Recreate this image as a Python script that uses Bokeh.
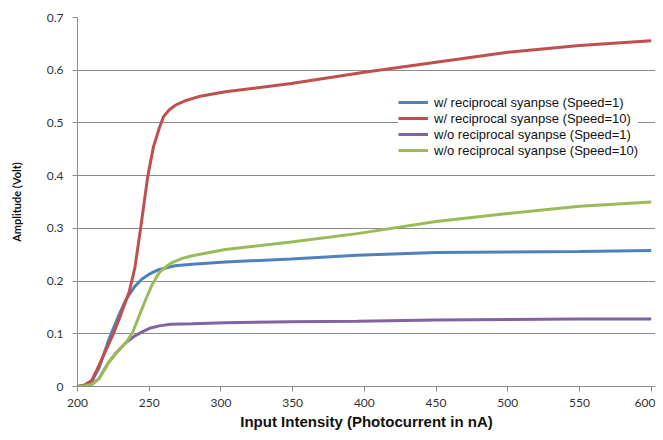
from bokeh.plotting import figure
from bokeh.models import FixedTicker, Range1d, Legend, LegendItem
from bokeh.embed import file_html
from bokeh.resources import INLINE

# Data
x_blue = [200, 205, 210, 215, 222, 228, 234, 240, 245, 250, 257, 268, 280, 303, 349, 395, 450, 500, 550, 600]
y_blue = [0, 0.002, 0.01, 0.035, 0.09, 0.13, 0.166, 0.19, 0.204, 0.213, 0.222, 0.229, 0.232, 0.236, 0.242, 0.249, 0.254, 0.255, 0.256, 0.258]

x_red = [200, 205, 210, 215, 220, 225, 230, 236, 240, 244, 249, 253, 257, 260, 264, 268.5, 275, 284.6, 303, 349, 400, 450, 500, 550, 600]
y_red = [0, 0.003, 0.012, 0.04, 0.07, 0.10, 0.135, 0.179, 0.225, 0.30, 0.399, 0.455, 0.49, 0.512, 0.525, 0.534, 0.542, 0.55, 0.559, 0.575, 0.596, 0.615, 0.634, 0.647, 0.656]

x_purple = [200, 205, 210, 215, 222, 228, 234, 240, 245.4, 251, 257, 265, 280, 303, 349, 395, 450, 500, 550, 600]
y_purple = [0, 0.001, 0.004, 0.015, 0.047, 0.067, 0.084, 0.096, 0.104, 0.111, 0.115, 0.118, 0.119, 0.121, 0.123, 0.124, 0.126, 0.127, 0.128, 0.128]

x_green = [200, 205, 210, 215, 222, 228, 234, 238.5, 243, 247.7, 252, 257, 262, 266, 273, 280, 303, 349, 395, 450, 500, 550, 600]
y_green = [0, 0.001, 0.004, 0.015, 0.047, 0.067, 0.084, 0.103, 0.134, 0.166, 0.193, 0.216, 0.228, 0.235, 0.243, 0.248, 0.26, 0.274, 0.29, 0.313, 0.328, 0.342, 0.35]

series_labels = [
    "w/ reciprocal syanpse (Speed=1)",
    "w/ reciprocal syanpse (Speed=10)",
    "w/o reciprocal syanpse (Speed=1)",
    "w/o reciprocal syanpse (Speed=10)",
]
colors = ["#4F81BD", "#C0504D", "#8064A2", "#9BBB59"]

x_ticks = [200, 250, 300, 350, 400, 450, 500, 550, 600]
y_ticks = [0, 0.1, 0.2, 0.3, 0.4, 0.5, 0.6, 0.7]
y_tick_labels = ["0", "0.1", "0.2", "0.3", "0.4", "0.5", "0.6", "0.7"]

p = figure(width=655, height=432, output_backend="svg", toolbar_location=None,
           x_range=Range1d(200, 603), y_range=Range1d(0, 0.7),
           min_border_left=77, min_border_right=0, min_border_top=17, min_border_bottom=46)
p.outline_line_color = None
p.background_fill_color = "white"
p.border_fill_color = "white"

renderers = []
for xs, ys, c in zip([x_blue, x_red, x_purple, x_green], [y_blue, y_red, y_purple, y_green], colors):
    r = p.line(xs, ys, line_color=c, line_width=3)
    renderers.append(r)

# grid
p.xgrid.grid_line_color = None
p.ygrid.grid_line_color = "#8C8C8C"
p.ygrid.grid_line_width = 1
p.ygrid.ticker = FixedTicker(ticks=y_ticks)

# axes
p.xaxis.ticker = FixedTicker(ticks=x_ticks)
p.yaxis.ticker = FixedTicker(ticks=y_ticks)
p.yaxis.major_label_overrides = {t: l for t, l in zip(y_ticks, y_tick_labels)}
for ax in (p.xaxis[0], p.yaxis[0]):
    ax.axis_line_color = "#8C8C8C"
    ax.major_tick_line_color = "#8C8C8C"
    ax.major_tick_in = 0
    ax.major_tick_out = 5
    ax.minor_tick_line_color = None
    ax.major_label_text_font = "Lato"
    ax.major_label_text_font_size = "12px"
    ax.major_label_text_color = "#333333"

p.xaxis.major_label_standoff = 7
p.yaxis.major_label_standoff = 9

p.xaxis.axis_label = "Input Intensity (Photocurrent in nA)"
p.xaxis.axis_label_text_font = "Liberation Sans"
p.xaxis.axis_label_text_font_style = "bold"
p.xaxis.axis_label_text_font_size = "15px"
p.xaxis.axis_label_text_color = "#111111"
p.xaxis.axis_label_standoff = 3

p.yaxis.axis_label = "Amplitude (Volt)"
p.yaxis.axis_label_text_font = "Lato"
p.yaxis.axis_label_text_font_style = "bold"
p.yaxis.axis_label_text_font_size = "11px"
p.yaxis.axis_label_text_color = "#111111"
p.yaxis.axis_label_standoff = 21

legend = Legend(
    items=[LegendItem(label=l, renderers=[r]) for l, r in zip(series_labels, renderers)],
    location=(321, 228),
    border_line_color=None,
    background_fill_color="white",
    background_fill_alpha=1.0,
    label_text_font="Liberation Sans",
    label_text_font_size="13px",
    label_text_color="#111111",
    glyph_width=30,
    glyph_height=14,
    label_height=16,
    label_standoff=6,
    spacing=0,
    padding=10,
    margin=0,
)
p.add_layout(legend, "center")

open("out.html", "w").write(file_html(p, INLINE))
